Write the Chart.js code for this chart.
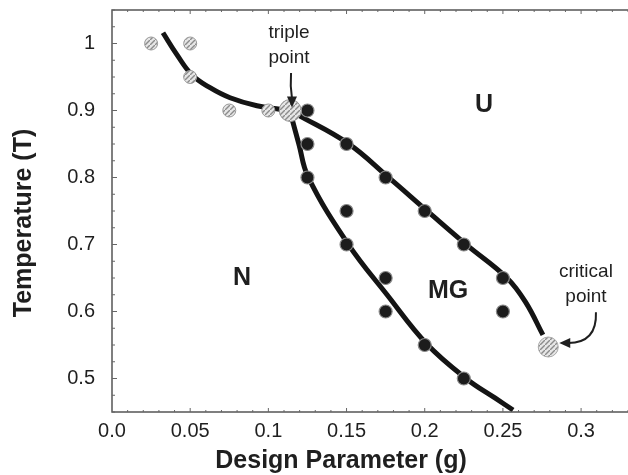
<!DOCTYPE html>
<html>
<head>
<meta charset="utf-8">
<script src="https://cdn.jsdelivr.net/npm/chart.js@4.4.0/dist/chart.umd.min.js"></script>
<style>
  html, body { margin: 0; padding: 0; background: #fff; }
  canvas { display: block; }
</style>
</head>
<body>
<canvas id="phaseChart" width="628" height="475"></canvas>
<script>
// tick marks and their labels
const xTicks = [0, 0.05, 0.1, 0.15, 0.2, 0.25, 0.3];
const xTickLabels = ["0.0", "0.05", "0.1", "0.15", "0.2", "0.25", "0.3"];
const yTicks = [0.5, 0.6, 0.7, 0.8, 0.9, 1.0];
const yTickLabels = ["0.5", "0.6", "0.7", "0.8", "0.9", "1"];

// simulation points (g, T)
const nativeG = [0.025, 0.05, 0.05, 0.075, 0.1];
const nativeT = [1.0, 1.0, 0.95, 0.9, 0.9];
const glassG = [0.125, 0.125, 0.125, 0.15, 0.15, 0.15, 0.175, 0.175, 0.175, 0.2, 0.2, 0.225, 0.225, 0.25, 0.25];
const glassT = [0.9, 0.85, 0.8, 0.85, 0.75, 0.7, 0.8, 0.65, 0.6, 0.75, 0.55, 0.7, 0.5, 0.65, 0.6];
const tripleG = [0.114];
const tripleT = [0.9];
const criticalG = [0.279];
const criticalT = [0.547];

// phase boundaries
const nuG = [0.0326, 0.0416, 0.0512, 0.0627, 0.0755, 0.0927, 0.1074, 0.114];
const nuT = [1.016, 0.983, 0.953, 0.934, 0.919, 0.907, 0.902, 0.9];
const nmgG = [0.1145, 0.1195, 0.1254, 0.1509, 0.1759, 0.2015, 0.227, 0.2449, 0.2565];
const nmgT = [0.893, 0.85, 0.801, 0.701, 0.625, 0.551, 0.499, 0.471, 0.453];
const mguG = [0.1177, 0.1509, 0.1765, 0.2021, 0.227, 0.2526, 0.2645, 0.2756];
const mguT = [0.895, 0.851, 0.801, 0.749, 0.699, 0.65, 0.614, 0.565];

const FONT = "'Liberation Sans', Arial, Helvetica, sans-serif";
const INK = "#1f1f1f";

const pts = (gs, ts) => gs.map((g, i) => ({ x: g, y: ts[i] }));

function hatch() {
  const c = document.createElement("canvas");
  c.width = c.height = 5;
  const g = c.getContext("2d");
  g.fillStyle = "#e6e6e6";
  g.fillRect(0, 0, 5, 5);
  g.strokeStyle = "#8c8c8c";
  g.lineWidth = 1.4;
  g.beginPath();
  g.moveTo(0, 5); g.lineTo(5, 0);
  g.stroke();
  return g.createPattern(c, "repeat");
}
const hatchFill = hatch();

// frame, inward ticks, titles and annotations
const decor = {
  id: "decor",
  afterDraw(chart) {
    const { ctx, chartArea: a, scales: { x, y } } = chart;
    ctx.save();
    ctx.strokeStyle = "#555";
    ctx.lineWidth = 1.5;
    ctx.beginPath();
    ctx.moveTo(a.right, a.top); ctx.lineTo(a.left, a.top);
    ctx.lineTo(a.left, a.bottom); ctx.lineTo(a.right, a.bottom);
    ctx.stroke();

    ctx.lineWidth = 1;
    ctx.strokeStyle = "#666";
    ctx.beginPath();
    for (let i = 1; i <= 33; i++) {
      const px = x.getPixelForValue(i / 100);
      const len = i % 5 === 0 ? 4 : 2;
      ctx.moveTo(px, a.bottom); ctx.lineTo(px, a.bottom - len);
      ctx.moveTo(px, a.top); ctx.lineTo(px, a.top + len);
    }
    for (let i = 0; i <= 24; i++) {
      const v = 0.45 + i * 0.025;
      const py = y.getPixelForValue(v);
      const major = Math.abs(v * 10 - Math.round(v * 10)) < 1e-6;
      ctx.moveTo(a.left, py); ctx.lineTo(a.left + (major ? 5 : 3), py);
    }
    ctx.stroke();

    // axis titles
    ctx.fillStyle = INK;
    ctx.font = `bold 25px ${FONT}`;
    ctx.textAlign = "center";
    ctx.textBaseline = "middle";
    ctx.fillText("Design Parameter (g)", 341, 461);
    ctx.save();
    ctx.translate(24, 223);
    ctx.rotate(-Math.PI / 2);
    ctx.fillText("Temperature (T)", 0, 0);
    ctx.restore();

    // phase labels
    const at = (g, t) => [x.getPixelForValue(g), y.getPixelForValue(t)];
    ctx.font = `bold 25px ${FONT}`;
    ctx.fillText("U", ...at(0.2379, 0.908));
    ctx.fillText("N", ...at(0.0831, 0.65));
    ctx.fillText("MG", ...at(0.2149, 0.631));

    ctx.font = `19px ${FONT}`;
    ctx.fillText("triple", ...at(0.1132, 1.0157));
    ctx.fillText("point", ...at(0.1132, 0.978));
    ctx.fillText("critical", ...at(0.3031, 0.659));
    ctx.fillText("point", ...at(0.3031, 0.622));

    // arrows
    ctx.strokeStyle = INK;
    ctx.fillStyle = INK;
    ctx.lineWidth = 2;
    let [sx, sy] = at(0.1145, 0.956);
    let [ex, ey] = at(0.1151, 0.918);
    ctx.beginPath();
    ctx.moveTo(sx, sy);
    ctx.quadraticCurveTo(sx - 1, (sy + ey) / 2, ex, ey);
    ctx.stroke();
    ctx.beginPath();
    ctx.moveTo(ex - 5, ey - 2); ctx.lineTo(ex + 5, ey - 2); ctx.lineTo(ex, ey + 9);
    ctx.closePath(); ctx.fill();

    [sx, sy] = at(0.3095, 0.599);
    const [cx, cy] = at(0.3102, 0.553);
    [ex, ey] = at(0.2918, 0.553);
    ctx.beginPath();
    ctx.moveTo(sx, sy);
    ctx.quadraticCurveTo(cx, cy, ex, ey);
    ctx.stroke();
    ctx.beginPath();
    ctx.moveTo(ex + 2, ey - 5); ctx.lineTo(ex + 2, ey + 5); ctx.lineTo(ex - 9, ey);
    ctx.closePath(); ctx.fill();
    ctx.restore();
  }
};

const boundary = (gs, ts) => ({
  type: "line",
  data: pts(gs, ts),
  borderColor: "#141414",
  borderWidth: 5,
  pointRadius: 0,
  fill: false,
  tension: 0.4
});

new Chart(document.getElementById("phaseChart"), {
  type: "scatter",
  data: {
    datasets: [
      {
        data: pts(tripleG, tripleT),
        pointRadius: 11,
        backgroundColor: hatchFill,
        borderColor: "#999",
        borderWidth: 1
      },
      {
        data: pts(criticalG, criticalT),
        pointRadius: 10,
        backgroundColor: hatchFill,
        borderColor: "#aaa",
        borderWidth: 1
      },
      {
        data: pts(nativeG, nativeT),
        pointRadius: 6.5,
        backgroundColor: hatchFill,
        borderColor: "#999",
        borderWidth: 1
      },
      {
        data: pts(glassG, glassT),
        pointRadius: 6.5,
        backgroundColor: "#1c1c1c",
        borderColor: "#8a8a8a",
        borderWidth: 1.2
      },
      boundary(nuG, nuT),
      boundary(nmgG, nmgT),
      boundary(mguG, mguT)
    ]
  },
  options: {
    responsive: false,
    devicePixelRatio: 1,
    animation: false,
    events: [],
    layout: { autoPadding: false, padding: { top: 10, left: 0, right: 0, bottom: 0 } },
    plugins: { legend: { display: false }, tooltip: { enabled: false } },
    scales: {
      x: {
        type: "linear",
        min: 0,
        max: 0.33,
        grid: { display: false, drawTicks: false },
        border: { display: false },
        afterBuildTicks: s => { s.ticks = xTicks.map(v => ({ value: v })); },
        afterFit: s => { s.height = 63; s.paddingLeft = 0; s.paddingRight = 0; },
        ticks: {
          autoSkip: false,
          maxRotation: 0,
          padding: 7,
          color: INK,
          font: { family: FONT, size: 20 },
          callback: (v, i) => xTickLabels[i]
        }
      },
      y: {
        type: "linear",
        min: 0.45,
        max: 1.05,
        grid: { display: false, drawTicks: false },
        border: { display: false },
        afterBuildTicks: s => { s.ticks = yTicks.map(v => ({ value: v })); },
        afterFit: s => { s.width = 112; s.paddingTop = 0; s.paddingBottom = 0; },
        ticks: {
          padding: 17,
          color: INK,
          font: { family: FONT, size: 20 },
          callback: (v, i) => yTickLabels[i]
        }
      }
    }
  },
  plugins: [decor]
});
</script>
</body>
</html>
